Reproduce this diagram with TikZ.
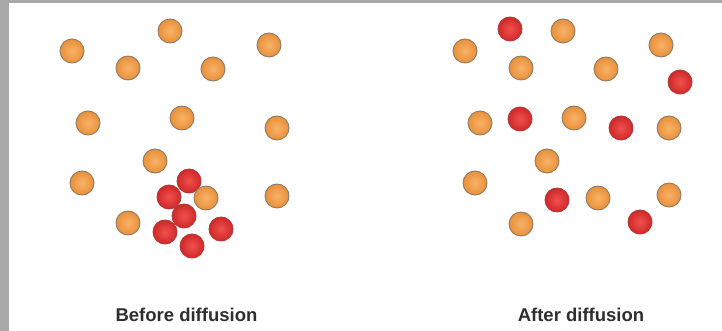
\documentclass[tikz,border=0pt]{standalone}
\usepackage{fontspec}
\setmainfont{Liberation Sans}
\begin{document}
\begin{tikzpicture}[x=1pt,y=-1pt,
  ballbase/.style={circle,minimum size=24pt,inner sep=0pt,line width=0.9pt},
  oball/.style={ballbase,draw=ballrimO,inner color=ballinO,outer color=balloutO},
  rball/.style={ballbase,draw=ballrimR,inner color=ballinR,outer color=balloutR},
  caption/.style={font=\fontsize{18.5}{22}\selectfont\bfseries,text=capgray,inner sep=0pt}]
\definecolor{ballrimO}{HTML}{8E7A66}
\definecolor{ballinO}{HTML}{F8B268}
\definecolor{balloutO}{HTML}{E8903A}
\definecolor{ballrimR}{HTML}{B03A3A}
\definecolor{ballinR}{HTML}{F05050}
\definecolor{balloutR}{HTML}{D02828}
\definecolor{capgray}{HTML}{2E2E2E}
\definecolor{framegray}{HTML}{A9A9A9}
\useasboundingbox (0,0) rectangle (722,331);
\fill[white] (0,0) rectangle (722,331);
\fill[framegray] (0,0) rectangle (9,331);
\fill[framegray] (0,0) rectangle (722,3);
% Before diffusion
\node[oball] (b1) at (72,51) {};
\node[oball] (b2) at (170,31) {};
\node[oball] (b3) at (269,45) {};
\node[oball] (b4) at (128,68) {};
\node[oball] (b5) at (213,69) {};
\node[oball] (b6) at (88,123) {};
\node[oball] (b7) at (182,118) {};
\node[oball] (b8) at (277,128) {};
\node[oball] (b9) at (155,161) {};
\node[oball] (b10) at (82,183) {};
\node[oball] (b12) at (277,196) {};
\node[oball] (b13) at (128,223) {};
\node[rball] (br1) at (189,181) {};
\node[oball] (b11) at (206,198) {};
\node[rball] (br2) at (169,197) {};
\node[rball] (br3) at (184,216) {};
\node[rball] (br4) at (165,232) {};
\node[rball] (br5) at (221,229) {};
\node[rball] (br6) at (192,246) {};
% After diffusion
\node[oball] (a1) at (465,51) {};
\node[oball] (a2) at (563,31) {};
\node[oball] (a3) at (661,45) {};
\node[oball] (a4) at (521,68) {};
\node[oball] (a5) at (606,69) {};
\node[oball] (a6) at (480,123) {};
\node[oball] (a7) at (574,118) {};
\node[oball] (a8) at (669,128) {};
\node[oball] (a9) at (547,161) {};
\node[oball] (a10) at (475,183) {};
\node[oball] (a11) at (598,198) {};
\node[oball] (a12) at (669,195) {};
\node[oball] (a13) at (521,224) {};
\node[rball] (ar1) at (510,29) {};
\node[rball] (ar2) at (680,82) {};
\node[rball] (ar3) at (520,119) {};
\node[rball] (ar4) at (621,128) {};
\node[rball] (ar5) at (557,200) {};
\node[rball] (ar6) at (640,222) {};
% captions
\node[caption] (cb) at (186.5,315) {Before diffusion};
\node[caption] (ca) at (581,315) {After diffusion};
\end{tikzpicture}
\end{document}
